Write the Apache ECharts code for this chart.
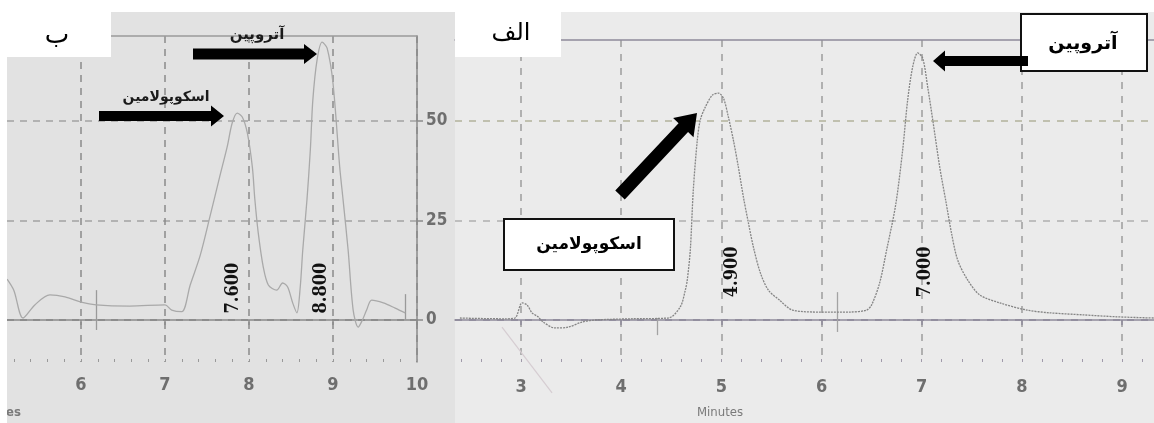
<!DOCTYPE html>
<html>
<head>
<meta charset="utf-8">
<script src="https://cdn.jsdelivr.net/npm/echarts@6/dist/echarts.min.js"></script>
<style>
  html, body { margin: 0; padding: 0; background: #ffffff; }
  #chart { width: 1154px; height: 423px; }
</style>
</head>
<body>
<div id="chart"></div>
<script>
// Two HPLC chromatograms side by side: panel ب (left) and panel الف (right).
// Time in minutes on x, detector response on y.

const leftXTicks = [6, 7, 8, 9, 10];
const rightXTicks = [3, 4, 5, 6, 7, 8, 9];
const yTicks = [0, 25, 50];

// Panel ب trace [minutes, response]
const leftTrace = [
  [5.12, 10.3], [5.20, 7.5], [5.31, 0.5], [5.45, 3.8], [5.63, 6.3], [5.81, 5.8],
  [6.00, 4.5], [6.18, 3.8], [6.58, 3.5], [7.00, 3.8], [7.08, 2.5], [7.20, 2.1],
  [7.30, 8.8], [7.42, 16.3], [7.54, 26.4], [7.65, 35.9], [7.74, 43.5], [7.80, 49.5],
  [7.86, 52.0], [7.92, 51.0], [7.98, 47.0], [8.04, 38.4], [8.07, 30.2], [8.11, 21.9],
  [8.17, 13.3], [8.23, 8.8], [8.33, 7.5], [8.40, 9.3], [8.46, 8.3], [8.52, 4.3],
  [8.57, 1.8], [8.61, 8.3], [8.64, 17.6], [8.69, 30.2], [8.73, 42.7], [8.76, 55.3],
  [8.81, 65.3], [8.87, 69.8], [8.93, 68.3], [9.00, 59.5], [9.08, 38.4], [9.12, 30.2],
  [9.18, 17.6], [9.24, 2.5], [9.30, -1.8], [9.35, 0.0], [9.40, 2.5], [9.46, 5.0],
  [9.60, 4.3], [9.74, 3.0], [9.86, 1.8]
];

// Panel الف trace [minutes, response]
const rightTrace = [
  [2.39, 0.5], [2.84, 0.3], [2.94, 0.5], [3.01, 4.3], [3.06, 3.8], [3.11, 1.8],
  [3.17, 0.8], [3.22, -0.5], [3.34, -2.0], [3.47, -1.8], [3.61, -0.5], [3.74, 0.0],
  [4.09, 0.3], [4.47, 0.5], [4.59, 3.3], [4.64, 7.5], [4.66, 10.1], [4.69, 17.6],
  [4.72, 32.7], [4.76, 45.2], [4.79, 50.3], [4.84, 53.5], [4.91, 56.5], [4.97, 57.0],
  [5.02, 55.8], [5.07, 51.0], [5.12, 45.2], [5.17, 38.4], [5.22, 30.9], [5.27, 24.4],
  [5.32, 18.3], [5.39, 11.8], [5.47, 7.5], [5.58, 5.0], [5.71, 2.5], [5.98, 2.0],
  [6.28, 2.0], [6.45, 2.5], [6.50, 3.8], [6.58, 9.3], [6.65, 17.6], [6.74, 28.9],
  [6.81, 42.7], [6.86, 55.3], [6.91, 63.6], [6.96, 67.1], [7.01, 65.8], [7.06, 58.5],
  [7.11, 50.3], [7.18, 38.4], [7.24, 30.0], [7.30, 21.5], [7.36, 15.0], [7.46, 10.0],
  [7.58, 6.3], [7.78, 4.3], [8.05, 2.5], [8.28, 1.8], [8.61, 1.3], [8.95, 0.8],
  [9.32, 0.5]
];

// Faint pen stroke below the baseline in panel الف
const rightStray = [[2.81, -1.8], [3.31, -18.3]];

// Integration event marks [minutes, low, high]
const leftEvents = [[6.18, -2.5, 7.5], [9.86, 0.0, 6.5]];
const rightEvents = [[4.36, -3.8, 0.5], [6.16, -3.0, 7.0]];

// Retention time labels [minutes, response, text]
const leftRtLabels = [[7.81, 8.0, '7.600'], [8.86, 8.0, '8.800']];
const rightRtLabels = [[5.11, 12.1, '4.900'], [7.04, 12.1, '7.000']];

const scopolamine = 'اسکوپولامین';
const atropine = 'آتروپین';
const panelTitles = ['ب', 'الف'];
const xName = 'Minutes';

const tickFont = '"Liberation Sans Narrow", "DejaVu Sans Condensed", "Liberation Sans", sans-serif';
const faFont = '"DejaVu Sans", "Noto Sans", sans-serif';
const rtFont = '"DejaVu Serif Condensed", "Liberation Serif", serif';

function subTicks(ticks, lo, hi, parts) {
  const step = (ticks[1] - ticks[0]) / parts;
  const out = [];
  const start = ticks[0] - Math.floor((ticks[0] - lo) / step) * step;
  for (let v = start; v <= hi + 1e-9; v += step) out.push(+v.toFixed(4));
  return out;
}

const L = { xMin: 5.119, xMax: 10, yMin: -10.55, yMax: 71.36 };
const R = { xMin: 2.341, xMax: 9.319, yMin: -10.55, yMax: 70.35 };

function mainX(grid, ext, ticks, color, split, labelMargin) {
  return {
    type: 'value', gridIndex: grid, position: 'bottom', min: ext.xMin, max: ext.xMax,
    axisLine: { show: true, lineStyle: { color: color, width: 1.5 } },
    axisTick: { show: true, customValues: ticks, length: 5, lineStyle: { color: color, width: 1.5 } },
    axisLabel: { customValues: ticks, color: '#6e6e6e', fontFamily: tickFont, fontWeight: 'bold', fontSize: 18, margin: labelMargin },
    splitLine: { show: true, lineStyle: split }
  };
}
function topX(grid, ext, color) {
  return {
    type: 'value', gridIndex: grid, position: 'top', min: ext.xMin, max: ext.xMax,
    axisLine: { show: true, lineStyle: { color: color, width: 1.5 } },
    axisTick: { show: false }, axisLabel: { show: false }, splitLine: { show: false }
  };
}
function minorX(grid, ext, ticks, color) {
  return {
    type: 'value', gridIndex: grid, position: 'bottom', min: ext.xMin, max: ext.xMax,
    axisLine: { show: false },
    axisTick: { show: true, inside: true, length: 3, customValues: subTicks(ticks, ext.xMin, ext.xMax, 5), lineStyle: { color: color, width: 1 } },
    axisLabel: { show: false }, splitLine: { show: false }
  };
}

function arrowPoints(x1, y1, x2, y2, shaft, head, headLen) {
  const dx = x2 - x1, dy = y2 - y1;
  const len = Math.hypot(dx, dy);
  const ux = dx / len, uy = dy / len, nx = -uy, ny = ux;
  const bx = x2 - ux * headLen, by = y2 - uy * headLen;
  const s = shaft / 2, h = head / 2;
  return [
    [x1 + nx * s, y1 + ny * s], [bx + nx * s, by + ny * s], [bx + nx * h, by + ny * h],
    [x2, y2],
    [bx - nx * h, by - ny * h], [bx - nx * s, by - ny * s], [x1 - nx * s, y1 - ny * s]
  ];
}
function arrow(x1, y1, x2, y2, shaft, head, headLen) {
  return { type: 'polygon', z: 60, shape: { points: arrowPoints(x1, y1, x2, y2, shaft, head, headLen) }, style: { fill: '#000' } };
}
function text(x, y, str, font, size, weight, color, extra, align) {
  return Object.assign({
    type: 'text', z: 70, x: x, y: y,
    style: { text: str, fontFamily: font, fontSize: size, fontWeight: weight, fill: color, align: align || 'center', verticalAlign: 'middle' }
  }, extra || {});
}

const chart = echarts.init(document.getElementById('chart'), null, { renderer: 'canvas' });

const option = {
  backgroundColor: '#ffffff',
  animation: false,
  grid: [
    { left: 7, top: 36, width: 410, height: 326 },
    { left: 455, top: 40, width: 699, height: 322 }
  ],
  xAxis: [
    mainX(0, L, leftXTicks, '#8a8a8a', { color: '#8a8a8a', width: 1.5, type: [7, 6] }, 14),
    topX(0, L, '#9a9a9a'),
    minorX(0, L, leftXTicks, '#9a9a9a'),
    mainX(1, R, rightXTicks, '#8f8a9a', { color: '#9d9d9d', width: 1.5, type: [7, 7] }, 16),
    topX(1, R, '#8f8a9a'),
    minorX(1, R, rightXTicks, '#a09aaa')
  ],
  yAxis: [
    {
      type: 'value', gridIndex: 0, position: 'right', min: L.yMin, max: L.yMax,
      axisLine: { show: true, lineStyle: { color: '#8a8a8a', width: 1.5 } },
      axisTick: { show: true, customValues: yTicks, length: 6, lineStyle: { color: '#8a8a8a', width: 1.5 } },
      axisLabel: { customValues: yTicks, color: '#6e6e6e', fontFamily: tickFont, fontWeight: 'bold', fontSize: 17, margin: 9 },
      splitLine: { show: true, lineStyle: { color: ['#7c7c7c', '#a2a2a2', '#a2a2a2'], width: 1.5, type: [7, 6] } }
    },
    {
      type: 'value', gridIndex: 1, min: R.yMin, max: R.yMax,
      axisLine: { show: false }, axisTick: { show: false, customValues: yTicks }, axisLabel: { show: false, customValues: yTicks },
      splitLine: { show: true, lineStyle: { color: ['#858092', '#b0b0b0', '#b3b39c'], width: 1.5, type: [7, 7] } }
    }
  ],
  series: [
    {
      type: 'line', xAxisIndex: 0, yAxisIndex: 0, data: leftTrace, showSymbol: false, smooth: 0.3,
      lineStyle: { color: '#a9a9a9', width: 1.3 }, z: 5,
      markLine: {
        silent: true, symbol: 'none', label: { show: false },
        lineStyle: { color: '#9a9a9a', width: 1.3, type: 'solid' },
        data: leftEvents.map(e => [{ coord: [e[0], e[1]] }, { coord: [e[0], e[2]] }])
      }
    },
    {
      type: 'line', xAxisIndex: 3, yAxisIndex: 1, data: rightTrace, showSymbol: false, smooth: 0.3,
      lineStyle: { color: '#858585', width: 1.3, type: [2, 1] }, z: 5,
      markLine: {
        silent: true, symbol: 'none', label: { show: false },
        lineStyle: { color: '#a3a3a3', width: 1.3, type: 'solid' },
        data: rightEvents.map(e => [{ coord: [e[0], e[1]] }, { coord: [e[0], e[2]] }])
      }
    },
    {
      type: 'line', xAxisIndex: 3, yAxisIndex: 1, data: rightStray, showSymbol: false, clip: false,
      lineStyle: { color: '#d6cdd2', width: 1.2 }, z: 4
    }
  ]
};
chart.setOption(option);

// Retention-time labels placed through the axes' scales
const rtGraphics = [];
function addRt(labels, xIdx, yIdx) {
  labels.forEach(([t, v, s]) => {
    const [px, py] = chart.convertToPixel({ xAxisIndex: xIdx, yAxisIndex: yIdx }, [t, v]);
    rtGraphics.push(text(px, py, s, rtFont, 18, 'bold', '#111', { rotation: Math.PI / 2 }));
  });
}
addRt(leftRtLabels, 0, 0);
addRt(rightRtLabels, 3, 1);

chart.setOption({
  graphic: [
    // panel backgrounds
    { type: 'rect', z: -100, shape: { x: 7, y: 12, width: 448, height: 411 }, style: { fill: '#e2e2e2' } },
    { type: 'rect', z: -100, shape: { x: 455, y: 12, width: 699, height: 411 }, style: { fill: '#ebebeb' } },
    // axis names
    text(720, 413, xName, tickFont, 13, 'normal', '#7a7a7a'),
    text(21, 413, xName, tickFont, 13, 'bold', '#7a7a7a', null, 'right'),
    // page margin on the left
    { type: 'rect', z: 100, shape: { x: 0, y: 0, width: 7, height: 423 }, style: { fill: '#ffffff' } },
    // panel title tabs
    { type: 'rect', z: 50, shape: { x: 7, y: 12, width: 104, height: 45 }, style: { fill: '#ffffff' } },
    text(57, 36, panelTitles[0], faFont, 26, 'normal', '#000'),
    { type: 'rect', z: 50, shape: { x: 455, y: 12, width: 106, height: 45 }, style: { fill: '#ffffff' } },
    text(511, 34, panelTitles[1], faFont, 24, 'normal', '#000'),
    // panel ب annotations
    text(166, 97, scopolamine, faFont, 14, 'bold', '#1a1a1a'),
    arrow(99, 116, 224, 116, 10, 21, 13),
    text(257, 35, atropine, faFont, 15, 'bold', '#1a1a1a'),
    arrow(193, 54, 317, 54, 11, 20, 13),
    // panel الف annotations
    { type: 'rect', z: 55, shape: { x: 504, y: 219, width: 170, height: 51 }, style: { fill: '#ffffff', stroke: '#111', lineWidth: 2 } },
    text(589, 245, scopolamine, faFont, 17, 'bold', '#000'),
    arrow(620, 195, 697, 113, 13, 28, 20),
    { type: 'rect', z: 55, shape: { x: 1021, y: 14, width: 126, height: 57 }, style: { fill: '#ffffff', stroke: '#111', lineWidth: 2 } },
    text(1083, 44, atropine, faFont, 19, 'bold', '#000'),
    arrow(1028, 61, 933, 61, 10, 21, 12)
  ].concat(rtGraphics)
});
</script>
</body>
</html>
